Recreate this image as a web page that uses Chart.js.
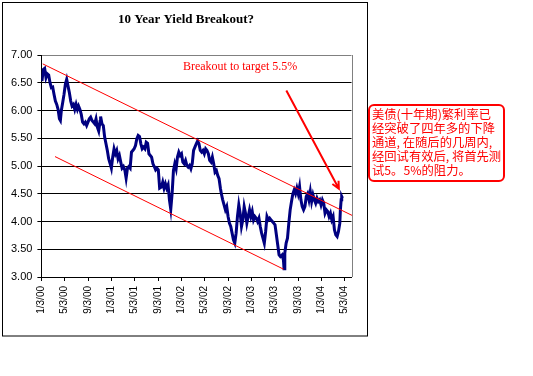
<!DOCTYPE html>
<html>
<head>
<meta charset="utf-8">
<script src="https://cdn.jsdelivr.net/npm/chart.js@4.4.1/dist/chart.umd.min.js"></script>
<style>
  body { margin: 0; background: #fff; }
  #wrap { position: relative; width: 533px; height: 376px; }
  #note {
    position: absolute; left: 368px; top: 104px; width: 131px; height: 73px;
    border: 2px solid #ff0000; border-radius: 6px; padding: 1px 0 0 2px;
    font: 12.3px/14px "Noto Sans CJK SC", sans-serif; color: #ff0000;
    white-space: pre; overflow: hidden;
  }
</style>
</head>
<body>
<div id="wrap">
  <canvas id="c" width="533" height="376"></canvas>
  <div id="note">美债(十年期)繁利率已
经突破了四年多的下降
通道, 在随后的几周内,
经回试有效后, 将首先测
试5。5%的阻力。</div>
</div>
<script>
// days counted from 1/3/00
const tickDays = [0, 121, 244, 366, 486, 609, 731, 851, 974, 1096, 1216, 1339, 1461, 1582];
const tickLabels = ['1/3/00', '5/3/00', '9/3/00', '1/3/01', '5/3/01', '9/3/01', '1/3/02',
                    '5/3/02', '9/3/02', '1/3/03', '5/3/03', '9/3/03', '1/3/04', '5/3/04'];

const days = [
  3, 10, 17, 24, 31, 38, 45, 52, 59, 66,
  73, 80, 87, 94, 99, 104, 111, 118, 125, 132,
  139, 146, 153, 160, 167, 174, 181, 188, 194, 201,
  208, 215, 222, 229, 236, 243, 250, 257, 264, 271,
  278, 285, 292, 299, 306,
  309, 316, 323, 330, 337, 344, 351, 358, 365, 372,
  379, 386, 393, 400, 407, 414, 421, 428, 435, 442,
  449, 456, 463, 470, 477, 484, 491, 498, 505, 512,
  519, 526, 533, 540, 547, 554, 561, 568, 575, 582,
  589, 596, 603, 610, 617,
  626, 633, 640, 647, 654, 661, 668, 675, 682, 689,
  696, 703, 710, 717, 724, 731, 738, 745, 752, 759,
  766, 773, 780, 787, 794, 801, 808, 815, 822, 829,
  836, 843, 850, 857, 864, 871, 878, 885, 892, 899,
  906, 913, 920, 927, 934,
  939, 946, 953, 960, 967, 974, 981, 988, 995, 1002,
  1009, 1016, 1023, 1030, 1037, 1044, 1051, 1058, 1065, 1072,
  1079, 1086, 1093, 1100, 1107, 1114, 1121, 1128, 1135, 1142,
  1149, 1156, 1163, 1170, 1177, 1184, 1191, 1198, 1205, 1212,
  1219, 1226, 1233, 1240, 1247,
  1256, 1263, 1266, 1270, 1277, 1284, 1291, 1298, 1305, 1312,
  1319, 1326, 1333, 1340, 1347, 1354, 1361, 1368, 1375, 1382,
  1389, 1396, 1403, 1410, 1417, 1424, 1431, 1438, 1445, 1452,
  1459, 1466, 1473, 1480, 1487, 1494, 1501, 1508, 1515, 1522,
  1529, 1536, 1543, 1550, 1557, 1560, 1564, 1567, 1571
];

const yields = [
  6.53, 6.74, 6.76, 6.59, 6.66, 6.64, 6.50, 6.41, 6.42, 6.29,
  6.17, 6.11, 6.02, 5.85, 5.82, 6.00, 6.14, 6.29, 6.47, 6.56,
  6.44, 6.32, 6.17, 6.08, 6.11, 6.02, 6.11, 6.02, 6.08, 6.02,
  5.93, 5.79, 5.76, 5.79, 5.73, 5.79, 5.85, 5.88, 5.82, 5.79,
  5.76, 5.85, 5.70, 5.63, 5.80,
  5.89, 5.76, 5.73, 5.52, 5.40, 5.28, 5.13, 5.05, 4.96, 5.16,
  5.31, 5.22, 5.28, 5.13, 5.19, 5.07, 4.96, 4.99, 4.93, 4.78,
  4.96, 4.99, 4.96, 5.25, 5.28, 5.31, 5.37, 5.49, 5.55, 5.53,
  5.40, 5.31, 5.34, 5.31, 5.43, 5.41, 5.22, 5.19, 5.16, 5.04,
  4.99, 4.93, 4.96, 4.93, 4.60,
  4.62, 4.71, 4.60, 4.68, 4.60, 4.66, 4.39, 4.22, 4.50, 4.92,
  5.04, 4.95, 5.16, 5.25, 5.19, 5.22, 5.07, 5.04, 5.10, 5.01,
  4.98, 5.01, 4.95, 5.04, 5.28, 5.34, 5.40, 5.45, 5.40, 5.28,
  5.25, 5.28, 5.22, 5.31, 5.28, 5.22, 5.10, 5.07, 5.16, 5.04,
  4.89, 4.92, 4.83, 4.77, 4.60,
  4.50, 4.39, 4.30, 4.21, 4.27, 4.09, 3.97, 3.91, 3.79, 3.67,
  3.61, 3.79, 4.09, 4.30, 4.15, 3.91, 4.03, 4.27, 4.15, 3.97,
  4.09, 4.21, 4.09, 4.18, 4.03, 4.09, 4.06, 4.00, 4.06, 3.91,
  3.79, 3.70, 3.61, 3.82, 4.09, 4.03, 4.06, 4.03, 4.00, 3.97,
  3.94, 3.76, 3.58, 3.40, 3.37,
  3.40, 3.30, 3.15, 3.43, 3.61, 3.70, 3.97, 4.21, 4.36, 4.50,
  4.57, 4.50, 4.60, 4.50, 4.63, 4.39, 4.27, 4.21, 4.27, 4.45,
  4.50, 4.39, 4.54, 4.36, 4.48, 4.39, 4.33, 4.42, 4.36, 4.39,
  4.30, 4.39, 4.33, 4.15, 4.21, 4.18, 4.09, 4.15, 4.03, 4.09,
  3.85, 3.76, 3.73, 3.82, 3.97, 4.21, 4.39, 4.45, 4.42
];

const chartTitle = '10 Year Yield Breakout?';
const breakoutText = 'Breakout to target 5.5%';
// channel lines and arrow, in [day, yield, day, yield]
const trendLines = [[7, 6.84, 1621, 4.11], [71, 5.17, 1264, 3.14]];
const arrowLine = [1278, 6.36, 1552, 4.59];

const extras = {
  id: 'extras',
  beforeDraw(chart) {
    const ctx = chart.ctx;
    ctx.save();
    ctx.fillStyle = '#fff';
    ctx.fillRect(0, 0, chart.width, chart.height);
    ctx.strokeStyle = '#000';
    ctx.lineWidth = 1;
    ctx.strokeRect(2.5, 2.5, 365, 333.5);
    ctx.fillStyle = '#000';
    ctx.font = 'bold 13px "Liberation Serif", "Times New Roman", serif';
    ctx.textAlign = 'center';
    ctx.textBaseline = 'middle';
    ctx.fillText(chartTitle, 186, 20);
    ctx.restore();
  },
  afterDatasetsDraw(chart) {
    const ctx = chart.ctx;
    const xs = chart.scales.x, ys = chart.scales.y;
    const area = chart.chartArea;
    ctx.save();
    // right border of plot area
    ctx.strokeStyle = '#808080';
    ctx.lineWidth = 1;
    ctx.beginPath();
    ctx.moveTo(Math.round(area.right) + 0.5, area.top);
    ctx.lineTo(Math.round(area.right) + 0.5, area.bottom);
    ctx.stroke();

    ctx.strokeStyle = '#ff0000';
    trendLines.forEach(t => {
      ctx.beginPath();
      ctx.moveTo(xs.getPixelForValue(t[0]), ys.getPixelForValue(t[1]));
      ctx.lineTo(xs.getPixelForValue(t[2]), ys.getPixelForValue(t[3]));
      ctx.stroke();
    });

    const x0 = xs.getPixelForValue(arrowLine[0]), y0 = ys.getPixelForValue(arrowLine[1]);
    const x1 = xs.getPixelForValue(arrowLine[2]), y1 = ys.getPixelForValue(arrowLine[3]);
    const ang = Math.atan2(y1 - y0, x1 - x0);
    ctx.lineWidth = 2;
    ctx.beginPath();
    ctx.moveTo(x0, y0);
    ctx.lineTo(x1, y1);
    ctx.moveTo(x1 - 8 * Math.cos(ang - 0.45), y1 - 8 * Math.sin(ang - 0.45));
    ctx.lineTo(x1, y1);
    ctx.lineTo(x1 - 8 * Math.cos(ang + 0.45), y1 - 8 * Math.sin(ang + 0.45));
    ctx.stroke();

    ctx.fillStyle = '#ff0000';
    ctx.font = '12px "Liberation Serif", "Times New Roman", serif';
    ctx.textAlign = 'center';
    ctx.textBaseline = 'middle';
    ctx.fillText(breakoutText, xs.getPixelForValue(1037), ys.getPixelForValue(6.79));
    ctx.restore();
  }
};

new Chart(document.getElementById('c'), {
  type: 'line',
  data: {
    datasets: [{
      data: days.map((d, i) => ({ x: d, y: yields[i] })),
      borderColor: '#000080',
      borderWidth: 3,
      pointRadius: 0,
      tension: 0,
      fill: false
    }]
  },
  options: {
    responsive: false,
    animation: false,
    layout: { padding: { left: 0, top: 55, right: 181.5, bottom: 0 } },
    plugins: { legend: { display: false }, tooltip: { enabled: false }, title: { display: false } },
    scales: {
      x: {
        type: 'linear',
        min: 0,
        max: 1618,
        afterFit: s => { s.height = 99; },
        afterBuildTicks: s => { s.ticks = tickDays.map(v => ({ value: v })); },
        ticks: {
          autoSkip: false,
          minRotation: 90,
          maxRotation: 90,
          padding: 5,
          color: '#000',
          font: { family: '"Liberation Sans", Arial, sans-serif', size: 10 },
          callback: (v, i) => tickLabels[i]
        },
        grid: { drawOnChartArea: false, tickLength: 4, color: '#000' },
        border: { color: '#000' }
      },
      y: {
        min: 3,
        max: 7,
        afterFit: s => { s.width = 41.4; },
        ticks: {
          stepSize: 0.5,
          padding: 5,
          color: '#000',
          font: { family: '"Liberation Sans", Arial, sans-serif', size: 11 },
          callback: v => v.toFixed(2)
        },
        grid: {
          tickLength: 4,
          tickColor: '#000',
          color: c => (c.tick && c.tick.value === 7 ? '#808080' : '#000')
        },
        border: { color: '#000' }
      }
    }
  },
  plugins: [extras]
});
</script>
</body>
</html>
